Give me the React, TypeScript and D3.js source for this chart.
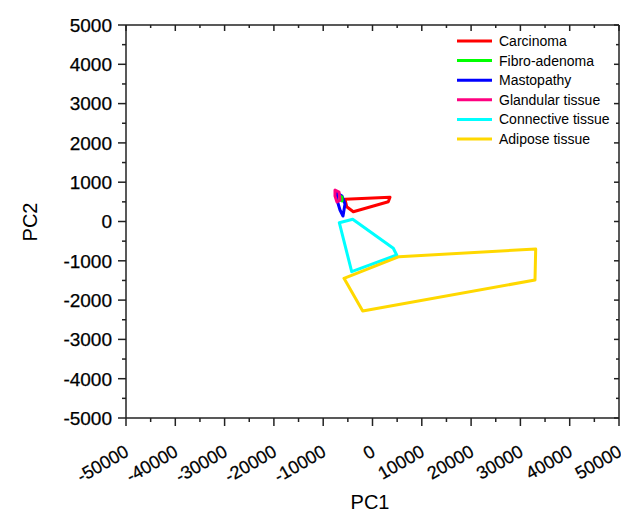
import React from "react";
import * as d3 from "d3";

const categories = ["Carcinoma", "Fibro-adenoma", "Mastopathy", "Glandular tissue", "Connective tissue", "Adipose tissue"];
const seriesColors = ["#ff0000", "#00ff00", "#0000ff", "#ff0080", "#00ffff", "#ffd800"];

// Convex hull outlines of each tissue class (PC1, PC2)
const carcinomaPC1 = [-5578, 3550, 3205, -3895, -5233];
const carcinomaPC2 = [565, 616, 504, 249, 377];
const fibroPC1 = [-6592, -6187, -6187, -6592];
const fibroPC2 = [649, 623, 522, 547];
const mastopathyPC1 = [-7201, -6187, -5578, -5984, -6592, -7201];
const mastopathyPC2 = [725, 649, 445, 140, 293, 547];
const glandularPC1 = [-7606, -6795, -6592, -7201, -7606];
const glandularPC2 = [802, 750, 547, 496, 649];
const connectivePC1 = [-6734, -4016, 4219, 4909, -4219];
const connectivePC2 = [-31, 56, -682, -852, -1277];
const adiposePC1 = [-5781, 5375, 33103, 32961, -1988];
const adiposePC2 = [-1445, -896, -700, -1489, -2277];

const xTicks = [-50000, -40000, -30000, -20000, -10000, 0, 10000, 20000, 30000, 40000, 50000];
const yTicks = [-5000, -4000, -3000, -2000, -1000, 0, 1000, 2000, 3000, 4000, 5000];
const xMinor = [-45000, -35000, -25000, -15000, -5000, 5000, 15000, 25000, 35000, 45000];
const yMinor = [-4500, -3500, -2500, -1500, -500, 500, 1500, 2500, 3500, 4500];

const seriesX = [carcinomaPC1, fibroPC1, mastopathyPC1, glandularPC1, connectivePC1, adiposePC1];
const seriesY = [carcinomaPC2, fibroPC2, mastopathyPC2, glandularPC2, connectivePC2, adiposePC2];
const drawOrder = [0, 2, 1, 3, 4, 5];

export default function App() {
  const W = 621, H = 511;
  const left = 126, right = 619, top = 25, bottom = 418;
  const x = d3.scaleLinear().domain([-50000, 50000]).range([left, right]);
  const y = d3.scaleLinear().domain([-5000, 5000]).range([bottom, top]);
  const line = d3.line<[number, number]>().x((d) => x(d[0])).y((d) => y(d[1])).curve(d3.curveLinearClosed);
  const font = "'Liberation Sans', Arial, sans-serif";
  const axisColor = "#222";

  return (
    <svg width={W} height={H} style={{ position: "absolute", left: 0, top: 0, background: "#fff" }} fontFamily={font}>
      {/* polygons */}
      {drawOrder.map((i) => {
        const pts: [number, number][] = seriesX[i].map((v, k) => [v, seriesY[i][k]]);
        return (
          <path key={i} d={line(pts) || ""} fill="none" stroke={seriesColors[i]} strokeWidth={3} strokeLinejoin="round" />
        );
      })}
      {/* frame */}
      <line x1={left} x2={right} y1={bottom} y2={bottom} stroke={axisColor} strokeWidth={1.5} />
      <line x1={left} x2={right} y1={top} y2={top} stroke={axisColor} strokeWidth={1.5} />
      <line x1={left} x2={left} y1={top} y2={bottom} stroke={axisColor} strokeWidth={1.5} />
      <line x1={right} x2={right} y1={top} y2={bottom} stroke={axisColor} strokeWidth={1.5} />
      {/* x ticks */}
      {xTicks.map((t) => (
        <g key={"xt" + t}>
          <line x1={x(t)} x2={x(t)} y1={bottom} y2={bottom + 8} stroke={axisColor} strokeWidth={1.5} />
          <line x1={x(t)} x2={x(t)} y1={top} y2={top + 6} stroke={axisColor} strokeWidth={1.5} />
          <text
            transform={`translate(${x(t) + 4},${bottom + 37}) rotate(-30)`}
            textAnchor="end"
            fontSize={18}
            fill="#000"
            stroke="#000"
            strokeWidth={0.25}
          >
            {t}
          </text>
        </g>
      ))}
      {xMinor.map((t) => (
        <g key={"xm" + t}>
          <line x1={x(t)} x2={x(t)} y1={bottom} y2={bottom + 4} stroke={axisColor} strokeWidth={1.5} />
          <line x1={x(t)} x2={x(t)} y1={top} y2={top + 3} stroke={axisColor} strokeWidth={1.5} />
        </g>
      ))}
      {/* y ticks */}
      {yTicks.map((t) => (
        <g key={"yt" + t}>
          <line x1={left - 8} x2={left} y1={y(t)} y2={y(t)} stroke={axisColor} strokeWidth={1.5} />
          <line x1={right - 5} x2={right} y1={y(t)} y2={y(t)} stroke={axisColor} strokeWidth={1.5} />
          <text x={left - 14} y={y(t)} dy="0.36em" textAnchor="end" fontSize={19} fill="#000" stroke="#000" strokeWidth={0.25}>
            {t}
          </text>
        </g>
      ))}
      {yMinor.map((t) => (
        <g key={"ym" + t}>
          <line x1={left - 4} x2={left} y1={y(t)} y2={y(t)} stroke={axisColor} strokeWidth={1.5} />
          <line x1={right - 3} x2={right} y1={y(t)} y2={y(t)} stroke={axisColor} strokeWidth={1.5} />
        </g>
      ))}
      {/* axis titles */}
      <text x={370} y={509} textAnchor="middle" fontSize={20} fill="#000">PC1</text>
      <text transform={`translate(37,222) rotate(-90)`} textAnchor="middle" fontSize={20} fill="#000">PC2</text>
      {/* legend */}
      {categories.map((c, i) => {
        const ly = 41 + i * 19.6;
        return (
          <g key={c}>
            <line x1={457} x2={492} y1={ly} y2={ly} stroke={seriesColors[i]} strokeWidth={3} />
            <text x={499} y={ly} dy="0.36em" fontSize={14} fill="#000">{c}</text>
          </g>
        );
      })}
    </svg>
  );
}
